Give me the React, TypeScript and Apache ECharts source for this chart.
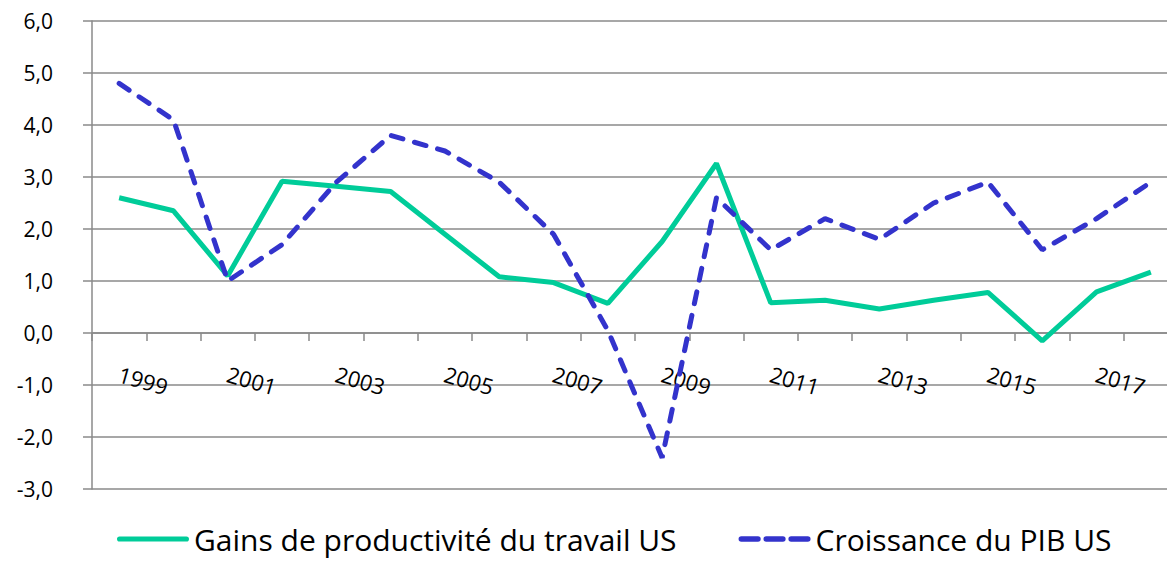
import React, { useEffect, useRef } from "react";
import * as echarts from "echarts";

const years = [
  "1999", "2000", "2001", "2002", "2003", "2004", "2005", "2006", "2007", "2008",
  "2009", "2010", "2011", "2012", "2013", "2014", "2015", "2016", "2017", "2018",
];
const productivite = [
  2.6, 2.35, 1.1, 2.92, 2.82, 2.72, 1.9, 1.08, 0.97, 0.57,
  1.76, 3.26, 0.58, 0.63, 0.46, 0.63, 0.78, -0.15, 0.79, 1.17,
];
const pib = [
  4.8, 4.1, 1.0, 1.7, 2.9, 3.8, 3.5, 2.9, 1.9, 0.05,
  -2.4, 2.6, 1.6, 2.2, 1.8, 2.5, 2.9, 1.6, 2.2, 2.9,
];
const seriesNames = ["Gains de productivité du travail US", "Croissance du PIB US"];

const FONT = "Open Sans";
const GRID = "#8a8a8a";
const Y_MIN = -3;
const Y_MAX = 6;
const GRID_TOP = 21;
const GRID_BOTTOM_PX = 489;

const solidIcon = "path://M2.5,0H67.5A2.5,2.5,0,0,1,67.5,5H2.5A2.5,2.5,0,0,1,2.5,0Z";
const dashIcon =
  "path://M2.5,0H17.5A2.5,2.5,0,0,1,17.5,5H2.5A2.5,2.5,0,0,1,2.5,0Z" +
  "M25,0H40A2.5,2.5,0,0,1,40,5H25A2.5,2.5,0,0,1,25,0Z" +
  "M47.5,0H62.5A2.5,2.5,0,0,1,62.5,5H47.5A2.5,2.5,0,0,1,47.5,0Z";

export default function App() {
  const ref = useRef<HTMLDivElement>(null);
  useEffect(() => {
    if (!ref.current) return;
    const chart = echarts.init(ref.current, undefined, { renderer: "svg" });
    const plotH = GRID_BOTTOM_PX - GRID_TOP;
    const zeroOffset = -(plotH * (0 - Y_MIN)) / (Y_MAX - Y_MIN);
    chart.setOption({
      animation: false,
      grid: { left: 92, right: 12, top: GRID_TOP, bottom: 562 - GRID_BOTTOM_PX, containLabel: false },
      legend: {
        left: 117,
        top: 524,
        padding: 0,
        itemWidth: 72,
        itemHeight: 6,
        itemGap: 62,
        textStyle: { fontFamily: FONT, fontSize: 30, lineHeight: 30, color: "#000" },
        data: [
          { name: seriesNames[0], icon: solidIcon },
          { name: seriesNames[1], icon: dashIcon },
        ],
      },
      xAxis: {
        type: "category",
        data: years,
        boundaryGap: true,
        offset: zeroOffset,
        axisLine: { onZero: false, lineStyle: { color: GRID, width: 1.5 } },
        axisTick: { show: true, interval: 0, length: 8, lineStyle: { color: GRID, width: 1.5 } },
        axisLabel: {
          interval: 1,
          rotate: -16,
          margin: 40,
          fontFamily: FONT,
          fontSize: 22,
          color: "#000",
        },
      },
      yAxis: {
        type: "value",
        min: Y_MIN,
        max: Y_MAX,
        interval: 1,
        axisLine: { show: true, lineStyle: { color: GRID, width: 1.5 } },
        axisTick: { show: true, length: 9, lineStyle: { color: GRID, width: 1.5 } },
        splitLine: { show: true, lineStyle: { color: GRID, width: 1.5 } },
        axisLabel: {
          margin: 39,
          fontFamily: FONT,
          fontSize: 21,
          color: "#000",
          formatter: (v: number) => v.toFixed(1).replace(".", ","),
        },
      },
      series: [
        {
          name: seriesNames[0],
          type: "line",
          data: productivite,
          symbol: "none",
          color: "#00CC99",
          lineStyle: { color: "#00CC99", width: 5 },
        },
        {
          name: seriesNames[1],
          type: "line",
          data: pib,
          symbol: "none",
          color: "#3333CC",
          lineStyle: { color: "#3333CC", width: 5, type: [12, 12], cap: "round" },
        },
      ],
    });
    return () => chart.dispose();
  }, []);
  return (
    <div
      ref={ref}
      style={{ position: "fixed", left: 0, top: 0, width: 1190, height: 562, background: "#fff" }}
    />
  );
}
